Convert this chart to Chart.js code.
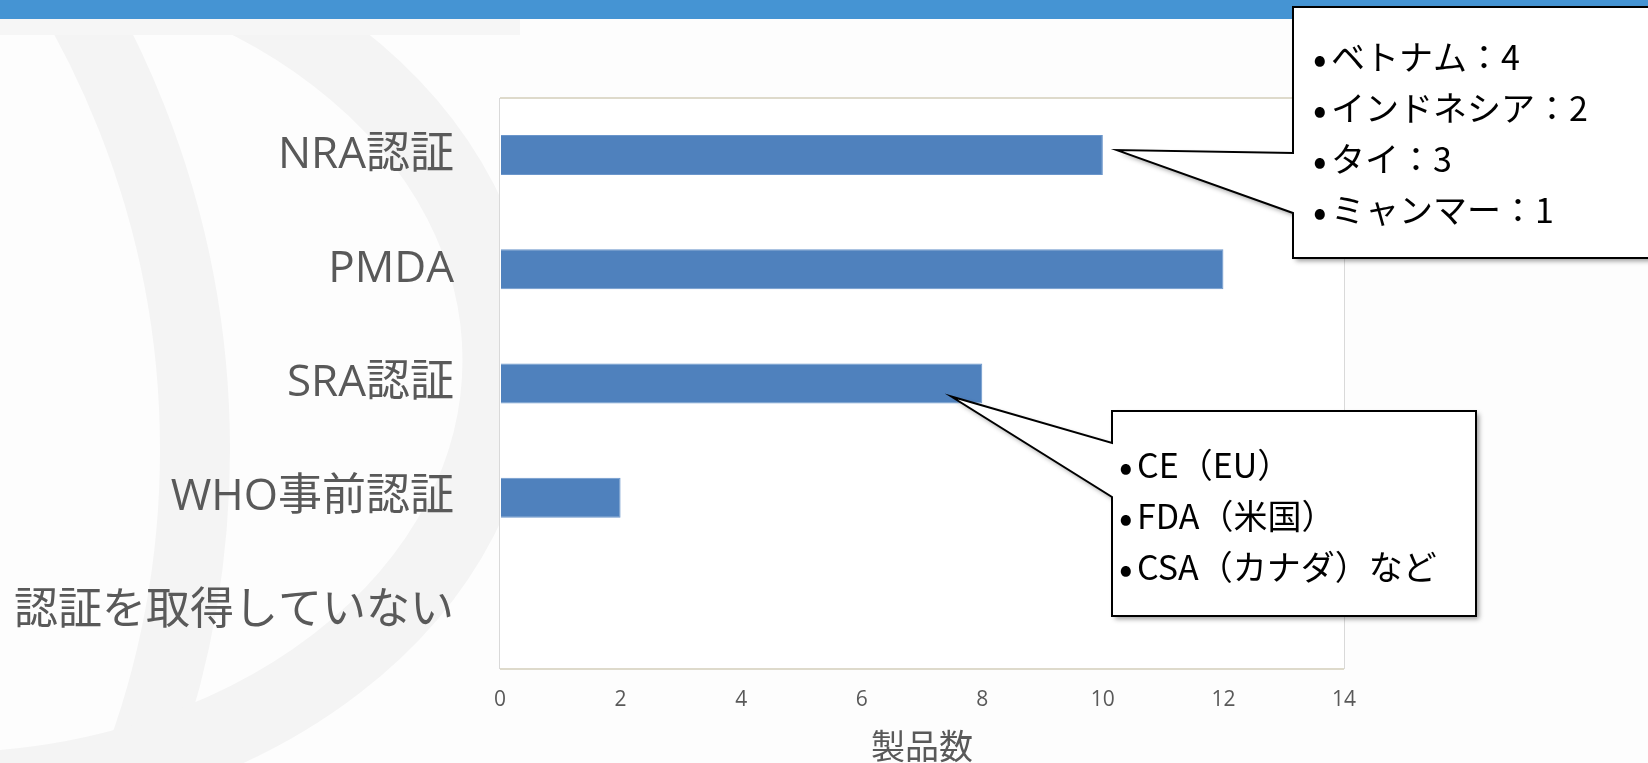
<!DOCTYPE html>
<html>
<head>
<meta charset="utf-8">
<script src="https://cdn.jsdelivr.net/npm/chart.js@4/dist/chart.umd.min.js"></script>
<style>
  html, body { margin: 0; padding: 0; background: #fff; overflow: hidden; }
  canvas { display: block; }
</style>
</head>
<body>
<canvas id="chart" width="1648" height="763"></canvas>
<script>
const categories = ['NRA認証', 'PMDA', 'SRA認証', 'WHO事前認証', '認証を取得していない']
const productCounts = [10, 12, 8, 2, 0]
const xTickValues = [0, 2, 4, 6, 8, 10, 12, 14]
const axisTitle = '製品数'
const nraBreakdown = ['ベトナム：4', 'インドネシア：2', 'タイ：3', 'ミャンマー：1']
const sraBreakdown = ['CE（EU）', 'FDA（米国）', 'CSA（カナダ）など']

const TEXT_GRAY = '#595959'
const CJK = '"Noto Sans CJK JP", "Noto Sans", sans-serif'
const LABEL_FONT = '44px "Open Sans", "Noto Sans CJK JP", sans-serif'

// slide background: blue band and the faint ring watermark on the left
const slideBackground = {
  id: 'slideBackground',
  beforeDraw(chart) {
    const { ctx, width } = chart
    ctx.save()
    ctx.fillStyle = '#fdfdfd'
    ctx.fillRect(0, 0, width, chart.height)
    ctx.strokeStyle = '#f4f4f4'
    ctx.lineWidth = 70
    ctx.beginPath()
    ctx.arc(-708, 450, 903, -Math.PI / 2, Math.PI / 2)
    ctx.stroke()
    ctx.lineWidth = 75
    ctx.beginPath()
    ctx.ellipse(-60, 360, 560, 430, 0, -Math.PI / 2, Math.PI / 2)
    ctx.stroke()
    ctx.fillStyle = '#f6f6f6'
    ctx.fillRect(0, 19, 520, 16)
    ctx.fillStyle = '#4594d3'
    ctx.fillRect(0, 0, width, 19)
    ctx.restore()
  },
  beforeDatasetsDraw(chart) {
    const { ctx, chartArea: a } = chart
    ctx.save()
    ctx.fillStyle = '#fff'
    ctx.fillRect(a.left, a.top, a.right - a.left, a.bottom - a.top)
    ctx.restore()
  },
  afterDatasetsDraw(chart) {
    const { ctx, chartArea: a } = chart
    ctx.save()
    ctx.strokeStyle = '#dedacb'
    ctx.lineWidth = 2
    ctx.beginPath()
    ctx.moveTo(a.left, a.top)
    ctx.lineTo(a.right, a.top)
    ctx.moveTo(a.left, a.bottom)
    ctx.lineTo(a.right, a.bottom)
    ctx.stroke()
    ctx.restore()
  },
}

// category labels, right aligned next to the plot
const categoryLabels = {
  id: 'categoryLabels',
  afterDraw(chart) {
    const { ctx } = chart
    const y = chart.scales.y
    ctx.save()
    ctx.font = LABEL_FONT
    ctx.fillStyle = TEXT_GRAY
    ctx.textAlign = 'right'
    ctx.textBaseline = 'middle'
    categories.forEach((label, i) => {
      ctx.fillText(label, y.right - 46, y.getPixelForTick(i))
    })
    ctx.restore()
  },
}

const drawCallout = (ctx, box, joints, tip, lines, lineY, indent) => {
  ctx.save()
  ctx.beginPath()
  ctx.moveTo(box.x, box.y)
  ctx.lineTo(box.x + box.w, box.y)
  ctx.lineTo(box.x + box.w, box.y + box.h)
  ctx.lineTo(box.x, box.y + box.h)
  ctx.lineTo(box.x, joints[1])
  ctx.lineTo(tip.x, tip.y)
  ctx.lineTo(box.x, joints[0])
  ctx.closePath()
  ctx.shadowColor = 'rgba(0,0,0,0.4)'
  ctx.shadowBlur = 5
  ctx.shadowOffsetX = 3
  ctx.shadowOffsetY = 3
  ctx.fillStyle = '#fff'
  ctx.fill()
  ctx.shadowColor = 'transparent'
  ctx.lineWidth = 2
  ctx.strokeStyle = '#000'
  ctx.stroke()

  ctx.fillStyle = '#000'
  ctx.textBaseline = 'middle'
  lines.forEach((text, i) => {
    ctx.font = '40px ' + CJK
    ctx.fillText('•', box.x + indent - 3, lineY[i] + 1)
    ctx.font = '34px ' + CJK
    ctx.fillText(text, box.x + indent + 15, lineY[i])
  })
  ctx.restore()
}

const callouts = {
  id: 'callouts',
  afterDraw(chart) {
    const { ctx } = chart
    const { x, y } = chart.scales
    drawCallout(
      ctx,
      { x: 1293, y: 7, w: 420, h: 251 },
      [153, 213],
      { x: x.getPixelForValue(productCounts[0]) + 14, y: y.getPixelForTick(0) - 5 },
      nraBreakdown,
      [57, 108, 159, 210],
      23
    )
    drawCallout(
      ctx,
      { x: 1112, y: 411, w: 364, h: 205 },
      [443, 497],
      { x: x.getPixelForValue(productCounts[2]) - 31, y: y.getPixelForTick(2) + 13 },
      sraBreakdown,
      [465, 516, 567],
      10
    )
  },
}

new Chart(document.getElementById('chart'), {
  type: 'bar',
  data: {
    labels: categories,
    datasets: [
      {
        data: productCounts,
        backgroundColor: '#4f81bd',
        borderColor: '#6b96cb',
        borderWidth: 1,
        categoryPercentage: 1,
        barPercentage: 0.35,
      },
    ],
  },
  options: {
    indexAxis: 'y',
    responsive: false,
    animation: false,
    layout: {
      padding: { top: 98, right: 304, left: 0, bottom: 0 },
    },
    plugins: {
      legend: { display: false },
      tooltip: { enabled: false },
    },
    scales: {
      x: {
        min: 0,
        max: 14,
        afterBuildTicks: (scale) => {
          scale.ticks = xTickValues.map((value) => ({ value }))
        },
        afterFit: (scale) => {
          scale.height = 94
        },
        grid: {
          color: '#d9d9d9',
          lineWidth: 2,
          drawTicks: false,
        },
        border: { display: false },
        ticks: {
          padding: 18,
          color: TEXT_GRAY,
          font: { family: '"Liberation Sans Narrow", "Open Sans", sans-serif', size: 21 },
        },
        title: {
          display: true,
          text: axisTitle,
          color: TEXT_GRAY,
          padding: { top: 0, bottom: 0 },
          font: { family: CJK, size: 34, lineHeight: 1 },
        },
      },
      y: {
        afterFit: (scale) => {
          scale.width = 500
        },
        grid: { display: false },
        border: { display: false },
        ticks: { display: false },
      },
    },
  },
  plugins: [slideBackground, categoryLabels, callouts],
})
</script>
</body>
</html>
